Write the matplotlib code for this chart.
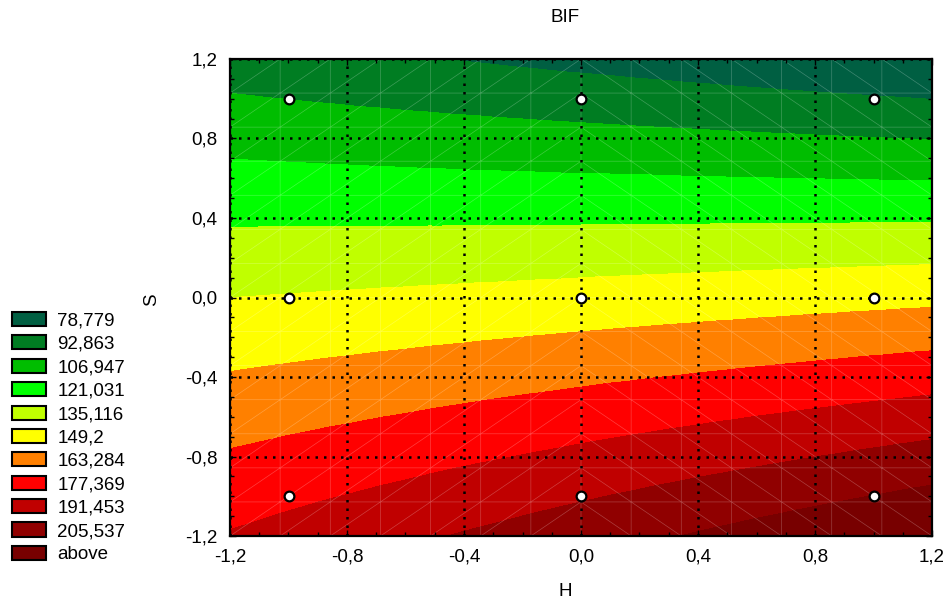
import numpy as np
import matplotlib
matplotlib.use("Agg")
import matplotlib.pyplot as plt
import matplotlib.tri as mtri
from matplotlib.patches import Patch
from matplotlib.ticker import MultipleLocator, FuncFormatter

plt.rcParams['font.family'] = ['Liberation Sans', 'DejaVu Sans']

# design points (coded H, S) and measured BIF
H_design = [-1, 0, 1, -1, 0, 1, -1, 0, 1]
S_design = [-1, -1, -1, 0, 0, 0, 1, 1, 1]
BIF_design = [174.7, 190.1, 205.8, 135.9, 140.3, 145.0, 92.7, 86.1, 79.8]

# contour class limits and colours
levels = [78.779, 92.863, 106.947, 121.031, 135.116, 149.2,
          163.284, 177.369, 191.453, 205.537]
legend_labels = ["78,779", "92,863", "106,947", "121,031", "135,116", "149,2",
                 "163,284", "177,369", "191,453", "205,537", "above"]
colors = ["#005f42", "#007d22", "#00bd00", "#00ff00", "#c0ff00", "#ffff00",
          "#ff8000", "#ff0000", "#c00000", "#900000", "#780000"]

# full quadratic response surface
h = np.array(H_design, float)
s = np.array(S_design, float)
X = np.column_stack([np.ones_like(h), h, s, h**2, s**2, h * s])
coef, *_ = np.linalg.lstsq(X, np.array(BIF_design), rcond=None)

def surface(hh, ss):
    return (coef[0] + coef[1] * hh + coef[2] * ss + coef[3] * hh**2
            + coef[4] * ss**2 + coef[5] * hh * ss)

# triangulated mesh, diagonals flipped in the right half
n = 14
gx = np.linspace(-1.2, 1.2, n + 1)
gy = np.linspace(-1.2, 1.2, n + 1)
GX, GY = np.meshgrid(gx, gy)
tris = []
for j in range(n):
    for i in range(n):
        a = j * (n + 1) + i
        b = a + 1
        c = a + (n + 1)
        d = c + 1
        if i < n // 2:
            tris += [[a, b, d], [a, d, c]]
        else:
            tris += [[a, b, c], [b, d, c]]
tri = mtri.Triangulation(GX.ravel(), GY.ravel(), np.array(tris))
Z = surface(GX.ravel(), GY.ravel())

fig = plt.figure(figsize=(9.44, 6.0), dpi=100)
ax = fig.add_axes([230 / 944, 64 / 600, 702 / 944, 477 / 600])

bounds = [-1e4] + levels + [1e4]
ax.tricontourf(tri, Z, levels=bounds, colors=colors, zorder=1)
ax.triplot(tri, color="white", lw=0.5, alpha=0.25, zorder=1.2)

ax.set_xlim(-1.2, 1.2)
ax.set_ylim(-1.2, 1.2)

fmt = FuncFormatter(lambda v, p: f"{v:.1f}".replace("-0.0", "0.0").replace(".", ","))
for axis in (ax.xaxis, ax.yaxis):
    axis.set_major_locator(MultipleLocator(0.4))
    axis.set_minor_locator(MultipleLocator(0.1))
    axis.set_major_formatter(fmt)

ax.tick_params(which="both", direction="in", top=True, right=True,
               labelsize=13.5, colors="black")
ax.tick_params(which="major", length=4, width=1)
ax.tick_params(which="minor", length=3, width=1)
ax.tick_params(axis="x", pad=9)
ax.tick_params(axis="y", pad=9)

ax.set_axisbelow(False)
ax.grid(True, which="major", color="black", linestyle=(0, (1, 2.4)), linewidth=1.8)
for sp in ax.spines.values():
    sp.set_linewidth(1.6)
    sp.set_zorder(5)

ax.plot(H_design, S_design, "o", ms=7, mfc="white", mec="black", mew=1.6,
        linestyle="none", zorder=4)

fig.text(565 / 944, 1 - 18 / 600, "BIF", ha="center", va="center", fontsize=13.5)
fig.text(565 / 944, 1 - 592 / 600, "H", ha="center", va="center", fontsize=13.5)
fig.text(152 / 944, 1 - 300 / 600, "S", ha="center", va="center", fontsize=13.5,
         rotation=90)

handles = [Patch(facecolor=c, edgecolor="black", linewidth=1.5) for c in colors]
fig.legend(handles, legend_labels, loc="upper left",
           bbox_to_anchor=(12 / 944, 1 - 312 / 600), frameon=False,
           fontsize=13.5, handlelength=1.8, handleheight=0.78,
           handletextpad=0.62, labelspacing=0.31, borderpad=0, borderaxespad=0)

fig.savefig("out.png", dpi=100)
